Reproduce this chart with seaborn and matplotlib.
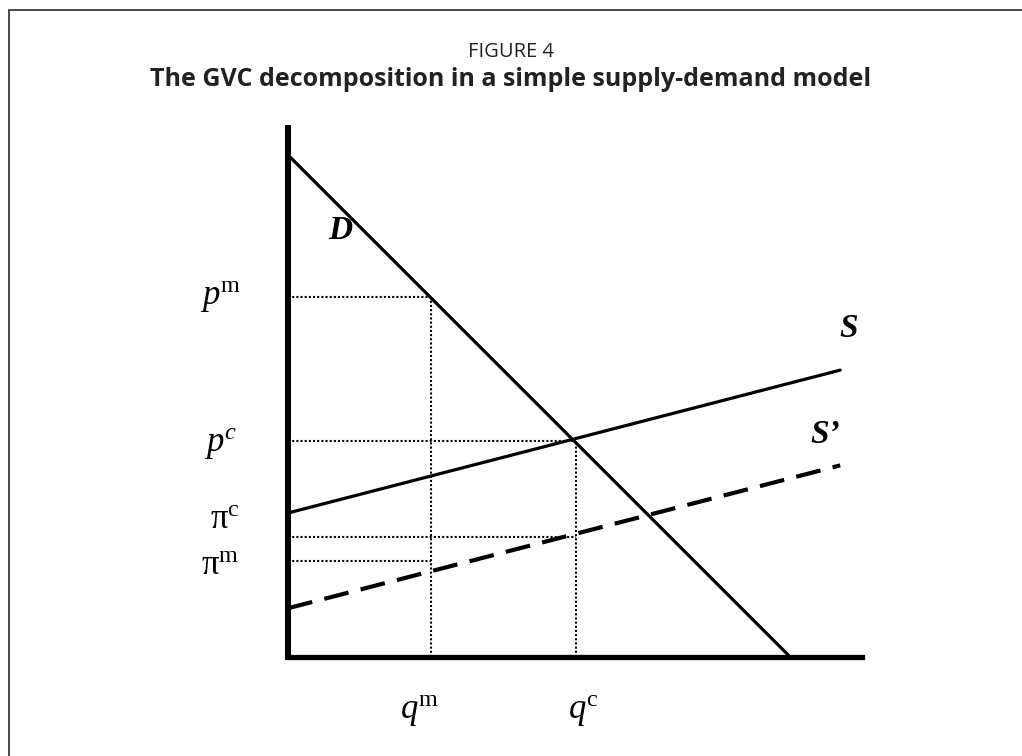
import numpy as np
import pandas as pd
import matplotlib
matplotlib.use('Agg')
import matplotlib.pyplot as plt
import seaborn as sns
from matplotlib.patches import Rectangle

sns.set_theme(style='white')
plt.rcParams['font.family'] = ['Open Sans', 'DejaVu Sans']
plt.rcParams['mathtext.fontset'] = 'custom'
plt.rcParams['mathtext.rm'] = 'Liberation Serif'
plt.rcParams['mathtext.it'] = 'Liberation Serif:italic'
plt.rcParams['mathtext.bf'] = 'Liberation Serif:bold'

# 수요/공급 곡선 (양 q, 가격 p)
demand_q = [0, 8.75]
demand_p = [8.75, 0]
supply_q = [0, 9.62]
supply_p = [2.51, 5.0]
supply2_q = [0, 9.62]
supply2_p = [0.85, 3.34]

# 균형점들
q_m, p_m = 2.49, 6.27
q_c, p_c = 5.02, 3.76
pi_c = 2.09
pi_m = 1.67

fig = plt.figure(figsize=(10.22, 7.56), dpi=100)
ax = fig.add_axes([288/1022, 99/756, 574/1022, 529/756])

sns.lineplot(x=demand_q, y=demand_p, ax=ax, color='black', lw=2.3)
sns.lineplot(x=supply_q, y=supply_p, ax=ax, color='black', lw=2.3)
sns.lineplot(x=supply2_q, y=supply2_p, ax=ax, color='black', lw=3, linestyle=(0, (6, 3)))

# 점선 (보조선)
dot = dict(color='black', lw=1.5, linestyle=(0, (1, 1)))
ax.plot([0, q_m], [p_m, p_m], **dot)
ax.plot([q_m, q_m], [0, p_m], **dot)
ax.plot([0, q_c], [p_c, p_c], **dot)
ax.plot([q_c, q_c], [0, p_c], **dot)
ax.plot([0, q_c], [pi_c, pi_c], **dot)
ax.plot([0, q_m], [pi_m, pi_m], **dot)

ax.set_xlim(0, 10)
ax.set_ylim(0, 9.22)
ax.set_xticks([])
ax.set_yticks([])
for s in ['top', 'right']:
    ax.spines[s].set_visible(False)
ax.spines['left'].set_linewidth(4.3)
ax.spines['bottom'].set_linewidth(3.8)
ax.spines['left'].set_color('black')
ax.spines['bottom'].set_color('black')

# 라벨
lab = dict(fontsize=25, ha='center', va='center', color='black')
ax.text(-1.18, p_m, r'$p^{\mathrm{m}}$', **lab)
ax.text(-1.18, p_c - 0.05, r'$p^{c}$', **lab)
ax.text(-1.1, pi_c + 0.3, r'$\mathrm{π}^{\mathrm{c}}$', **lab)
ax.text(-1.18, pi_m - 0.08, r'$\mathrm{π}^{\mathrm{m}}$', **lab)
ax.text(q_m - 0.2, -0.94, r'$q^{\mathrm{m}}$', **lab)
ax.text(q_c + 0.13, -0.94, r'$q^{\mathrm{c}}$', **lab)

bi = dict(fontsize=24, ha='center', va='center', family='Liberation Serif',
          fontweight='bold', style='italic', color='black')
ax.text(0.91, 7.44, 'D', **bi)
ax.text(9.76, 5.73, 'S', **bi)
ax.text(9.36, 3.87, 'S\u2019', **bi)

# 제목
fig.text(0.5, 1 - 52/756, 'FIGURE 4', ha='center', va='center', fontsize=14.5, color='#222222')
fig.text(0.5, 1 - 80/756, 'The GVC decomposition in a simple supply-demand model',
         ha='center', va='center', fontsize=18, fontweight='bold', color='#222222')

# 테두리
top = 1 - 10/756
fig.patches.append(Rectangle((9/1022, -0.2), 1.2, top + 0.2,
                             transform=fig.transFigure, fill=False,
                             edgecolor='#2a2a2a', lw=1.2))

fig.savefig('out.png', dpi=100)
